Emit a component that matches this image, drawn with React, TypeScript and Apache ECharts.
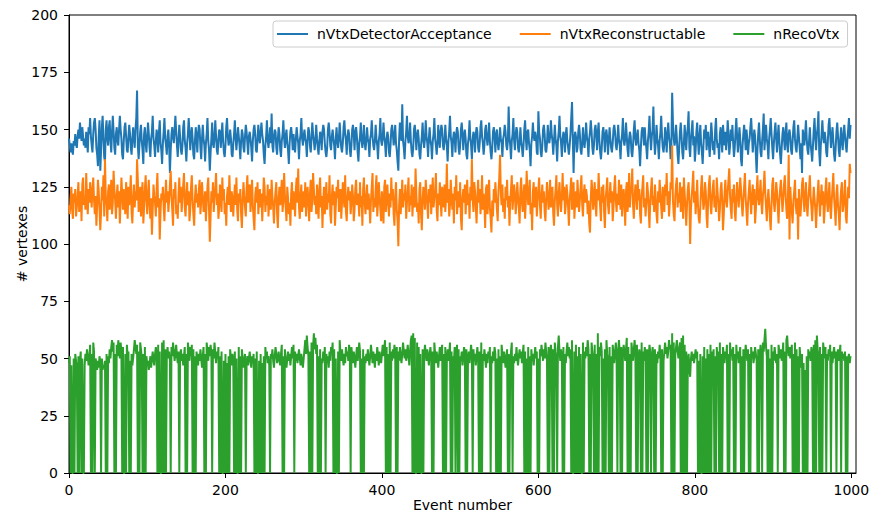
import React, { useEffect, useRef } from "react";
import * as echarts from "echarts";

// Per-event vertex counts
const nVtxDetectorAcceptance: number[] = [
  146,143,140,144,141,139,145,143,148,144,142,147,150,146,153,149,145,151,147,143,146,142,149,145,140,151,148,155,147,143,
  140,148,153,155,150,142,139,134,147,154,132,141,151,156,146,138,136,150,154,146,143,151,154,145,140,149,156,149,142,139,
  148,151,145,143,150,156,150,146,139,137,145,151,153,147,141,140,147,152,148,142,139,146,151,146,142,150,155,167,143,137,
  143,149,152,145,141,135,148,151,144,140,147,153,148,142,138,146,149,156,146,143,138,145,150,147,140,149,154,144,141,135,
  144,149,155,146,143,139,147,150,143,131,141,148,151,147,144,150,156,149,143,138,146,152,147,141,139,143,151,154,145,142,
  136,144,148,155,149,141,147,151,146,139,137,145,151,147,140,148,152,150,142,137,146,152,146,143,136,144,148,155,145,141,
  132,140,146,153,144,142,147,154,147,141,139,146,150,149,142,148,153,145,140,138,143,151,155,147,143,145,150,146,139,138,
  144,148,154,146,141,146,151,147,143,137,145,150,148,142,140,147,152,149,144,139,147,149,146,142,136,145,150,152,148,141,
  140,146,152,146,144,149,153,148,145,139,135,143,147,154,145,142,146,151,144,157,143,140,147,150,149,142,139,146,151,148,
  141,138,145,148,154,146,142,147,150,144,141,135,144,149,151,147,141,148,143,140,146,151,147,144,137,145,148,155,146,143,
  147,150,146,144,138,146,151,149,143,140,146,153,148,145,141,145,152,146,142,139,145,149,147,141,149,152,150,144,140,138,
  142,150,153,149,143,141,147,150,146,143,137,146,151,145,142,146,153,147,142,140,144,151,154,148,145,139,147,150,148,141,
  138,143,150,152,148,141,149,151,147,140,136,144,147,153,145,142,146,152,144,141,145,151,146,144,138,146,148,154,147,143,
  141,145,152,146,143,137,145,148,155,145,143,146,153,147,144,138,146,149,147,140,138,143,150,152,148,143,147,152,144,141,
  136,132,146,153,147,145,161,145,142,137,145,149,156,147,144,146,153,145,140,138,142,150,152,148,141,147,150,146,139,137,
  143,147,153,145,142,146,154,147,144,138,146,151,145,143,137,145,148,155,146,143,139,144,152,146,142,149,152,150,143,141,
  145,152,146,143,136,145,149,156,147,144,138,146,149,147,140,148,151,149,142,139,143,150,153,148,141,147,150,146,139,137,
  144,147,154,146,143,137,146,149,147,140,148,151,149,142,140,144,151,154,147,144,139,143,150,152,146,143,147,153,145,140,
  137,142,149,151,147,140,148,150,144,141,145,151,146,144,138,146,148,152,149,143,141,145,160,147,143,137,145,148,155,145,
  141,148,151,149,142,140,144,151,145,142,138,143,150,154,146,141,149,150,144,141,134,144,147,153,147,145,149,147,140,139,
  158,149,146,140,138,143,150,152,148,141,140,144,152,146,144,147,154,148,145,139,145,152,146,143,136,145,149,156,147,144,
  138,146,149,147,140,148,151,145,142,139,143,148,155,162,146,131,146,149,147,140,142,149,152,148,141,139,144,151,145,142,
  146,153,147,144,138,146,149,154,149,142,139,143,150,152,148,141,149,153,145,140,137,142,149,151,147,140,148,150,146,139,
  145,151,146,142,140,144,150,152,149,143,141,145,152,146,143,137,145,148,155,145,143,146,153,147,141,138,146,149,147,140,
  138,143,150,154,146,143,147,150,144,141,134,142,149,151,149,143,151,145,142,137,145,149,156,147,141,147,150,160,146,139,
  144,152,146,143,137,145,149,156,147,142,140,144,151,147,140,148,153,147,144,137,143,166,153,146,143,145,152,146,139,135,
  142,149,153,147,140,137,144,152,146,141,148,151,158,142,138,146,150,154,143,147,136,141,149,153,145,139,147,152,144,140,
  135,143,150,146,152,141,147,149,143,138,146,153,148,141,145,139,150,155,146,142,144,137,148,151,145,140,152,147,143,149,
  141,146,154,148,139,143,150,145,152,144,138,142,149,155,147,140,145,151,146,137,134,143,148,152,147,141,150,146,139,144,
  146,151,155,148,140,145,150,147,139,131,141,148,153,146,140,138,145,150,157,141,147,152,146,143,137,146,150,155,148,142,
  137,144,149,153,146,140,147,152,145,139,135,142,148,151,146,141,149,153,143,140,148,150,147,141,139,145,151,154,146,142,
  140,146,152,147,142,137,144,131,150,147,143,148,154,146,141,139,145,151,144,140,136,143,150,155,146,141,148,151,158,140,
  134,143,148,154,147,144,149,146,140,138,145,152,155,148,142,147,151,145,139,136,142,149,153,147,141,138,146,151,144,141,
  148,152,147,143,140,146,150,155,146,152,
];

const nVtxReconstructable: number[] = [
  117,113,120,125,115,111,122,118,124,112,116,121,127,114,119,123,110,126,129,117,121,115,131,120,113,124,118,127,122,116,
  124,129,119,113,121,108,117,128,123,115,106,114,125,119,130,112,137,121,117,110,123,126,115,120,128,113,118,132,124,119,
  111,121,126,116,123,109,119,129,122,115,124,118,113,127,120,111,125,117,122,130,114,109,120,126,116,123,119,137,128,114,
  118,125,112,121,127,109,116,124,130,119,113,122,128,117,111,120,104,115,126,121,118,112,124,131,116,120,102,114,122,119,
  125,116,110,121,128,118,123,114,119,126,132,121,115,108,124,120,127,113,117,111,122,129,118,125,114,120,126,131,116,112,
  121,127,117,123,110,115,125,130,119,113,108,120,126,118,122,116,124,128,113,119,127,121,114,117,123,110,118,125,129,115,
  101,112,123,118,127,114,120,125,131,117,122,111,116,126,121,114,129,119,124,113,118,108,121,125,117,130,120,114,123,119,
  112,120,126,117,129,115,110,122,118,124,113,107,119,127,121,116,112,124,130,118,122,126,114,120,128,117,111,106,121,125,
  118,127,113,120,124,116,122,110,119,129,125,114,121,117,126,112,119,124,115,128,121,116,109,118,123,127,113,107,120,125,
  117,122,128,114,119,131,121,116,110,125,120,113,118,108,122,127,115,123,119,112,124,129,118,133,116,111,121,126,114,119,
  123,116,127,112,120,125,118,110,122,128,114,119,131,124,117,121,113,126,118,111,124,129,116,121,107,119,125,113,120,127,
  115,122,118,130,113,109,121,126,117,123,108,116,125,120,128,114,119,124,111,118,127,121,116,130,114,110,120,125,119,123,
  113,118,126,121,110,115,124,128,117,122,119,112,127,116,121,108,124,129,118,113,120,126,115,122,117,109,119,125,131,114,
  120,116,124,130,112,118,127,121,115,110,123,117,109,125,128,114,120,126,118,112,122,116,129,119,124,113,108,121,127,115,
  110,99,117,124,113,120,128,116,122,119,126,111,118,123,129,114,121,117,126,112,120,125,116,133,122,114,118,109,124,127,
  113,106,119,125,120,115,128,122,117,111,124,118,126,113,121,129,116,120,123,131,115,110,122,117,127,119,112,125,121,116,
  126,114,120,135,118,124,112,117,128,121,115,122,109,125,119,130,113,118,123,116,127,111,106,120,124,118,126,113,121,128,
  117,122,111,125,119,137,120,114,127,123,116,109,121,128,118,124,113,119,130,115,122,117,107,124,126,113,120,128,116,111,
  105,119,112,124,118,127,121,115,110,123,129,139,122,117,126,114,120,111,125,119,128,116,121,108,118,124,130,115,120,126,
  122,113,118,127,121,116,109,124,129,118,114,122,126,111,119,132,124,117,121,128,113,118,106,123,127,116,120,125,112,119,
  124,129,117,111,121,126,118,123,114,110,120,127,122,115,119,128,116,121,125,113,108,119,124,130,117,112,122,127,118,114,
  121,131,119,125,113,117,126,122,116,108,119,124,129,115,120,127,111,118,123,116,128,121,114,119,125,130,117,112,122,126,
  118,124,121,113,119,109,105,120,128,123,115,121,127,117,112,124,119,131,122,116,110,125,118,126,114,107,120,124,129,117,
  113,121,127,118,123,110,116,125,130,119,114,122,117,128,121,115,126,112,119,124,118,108,123,127,114,120,131,116,122,125,
  133,117,111,120,126,122,115,128,119,124,113,109,121,125,130,116,120,112,118,127,123,115,107,119,124,129,117,121,114,126,
  120,113,109,123,118,128,122,116,111,125,119,114,126,121,131,117,123,112,118,127,124,143,119,113,110,121,126,129,116,122,
  118,127,114,120,125,111,129,122,116,108,117,124,127,119,100,115,121,126,132,118,123,113,120,128,117,111,109,116,125,130,
  121,115,118,127,123,112,107,119,126,130,117,113,120,125,128,116,121,114,129,123,118,110,115,124,127,119,106,113,122,128,
  119,116,123,128,133,121,115,111,124,118,126,114,110,120,127,122,116,121,129,124,117,112,119,125,131,120,114,108,118,123,
  128,119,113,121,126,117,124,109,115,123,130,120,117,122,128,118,113,121,125,132,122,116,110,119,124,118,111,106,117,126,
  129,118,114,120,127,123,116,109,119,124,128,121,114,119,126,130,122,115,111,120,139,102,125,118,114,109,119,123,128,117,
  113,120,102,124,116,112,118,126,129,120,114,121,127,117,112,119,124,130,121,116,110,118,125,120,115,107,116,122,128,119,
  112,120,126,117,123,109,115,124,129,118,114,121,127,116,111,119,125,131,120,115,108,122,126,117,113,106,118,124,127,114,
  117,121,128,112,109,119,125,120,135,131,
];

const nRecoVtx: number[] = [
  48,51,0,47,0,0,50,0,52,49,46,0,51,0,49,53,0,50,0,0,47,52,49,54,51,47,50,56,0,52,
  0,57,53,0,50,48,45,49,46,51,48,0,50,45,47,46,49,0,52,0,51,48,54,50,55,58,53,57,0,52,
  0,56,51,58,54,50,57,53,0,55,0,0,52,0,56,51,53,0,49,0,52,47,50,54,58,55,52,56,0,53,
  0,57,54,50,0,52,0,55,0,51,47,49,45,48,51,46,50,53,49,47,52,55,51,0,56,0,53,0,0,57,
  0,58,0,54,0,51,55,50,53,49,0,55,51,57,53,49,52,56,51,48,53,0,50,54,49,52,47,51,55,0,
  52,0,57,53,49,55,51,56,0,54,0,51,0,53,50,47,52,49,54,50,46,51,55,0,52,0,57,53,49,55,
  51,56,52,0,54,50,57,52,48,53,50,55,0,51,0,53,0,0,49,0,52,0,48,0,51,0,54,50,47,52,
  49,0,53,0,50,0,0,55,0,51,0,54,50,46,49,52,0,48,51,47,50,53,49,46,51,48,52,0,50,0,
  53,0,0,49,0,52,0,48,0,51,0,55,50,53,48,51,47,0,52,50,54,49,46,51,55,52,48,50,53,49,
  47,52,56,0,51,0,54,49,46,50,53,49,52,47,51,55,50,56,0,53,49,52,48,51,54,50,47,52,49,46,
  50,54,58,52,60,55,51,0,53,0,57,0,55,61,54,59,52,56,0,51,0,54,0,50,48,53,49,55,0,52,
  48,51,46,53,49,55,52,57,0,54,0,50,0,0,53,0,58,52,49,54,50,47,52,48,55,51,53,49,56,52,
  0,55,51,48,53,50,46,51,55,49,52,57,53,0,50,0,54,0,51,48,52,49,54,50,47,51,56,52,48,53,
  50,46,52,49,55,51,47,53,50,48,52,56,51,54,58,0,55,0,52,0,57,0,53,49,54,50,56,52,0,55,
  0,53,49,55,51,48,52,57,53,50,54,49,52,56,51,47,53,58,60,0,61,0,59,0,0,57,0,55,0,52,
  0,0,54,0,50,56,52,49,54,51,47,52,55,50,0,53,0,57,52,48,53,50,46,51,55,49,53,56,0,52,
  0,55,0,50,54,49,52,57,0,53,0,51,48,55,0,52,56,0,54,0,51,49,53,47,51,55,52,0,54,0,
  50,53,48,52,56,51,0,54,49,52,47,51,55,50,0,53,0,57,0,52,49,54,50,46,52,48,53,50,55,0,
  51,48,53,49,55,52,0,50,0,54,0,51,0,56,52,48,53,50,46,51,54,0,52,0,49,53,57,0,51,48,
  52,49,55,50,47,51,54,50,53,48,52,56,0,53,0,50,0,55,0,51,0,54,49,52,47,51,55,50,53,0,
  50,0,54,51,56,52,49,54,50,57,53,49,0,55,0,51,56,52,0,54,0,57,53,50,0,55,60,53,49,54,
  51,0,55,0,52,48,53,57,51,55,50,54,0,58,0,0,53,0,56,0,51,0,55,0,52,0,0,57,0,53,
  50,55,51,58,54,0,52,0,57,53,50,0,56,0,52,0,61,0,55,51,57,53,0,50,0,54,0,58,52,49,
  0,55,0,51,0,56,52,48,53,57,50,0,54,58,52,0,55,0,51,56,53,49,54,59,0,55,0,52,0,57,
  53,49,54,58,52,0,56,0,50,54,51,0,57,0,53,49,55,51,0,54,0,50,56,53,0,49,55,51,0,54,
  0,52,48,53,50,56,51,0,54,0,49,53,57,52,55,50,53,58,54,56,0,61,0,57,0,52,55,58,53,50,
  54,57,0,59,0,60,0,56,0,53,0,49,52,45,42,50,53,49,52,48,51,54,50,53,0,49,0,52,0,0,
  51,0,55,0,50,0,54,0,52,0,56,0,53,49,54,0,51,0,55,50,53,0,57,0,52,0,55,51,48,53,
  50,56,0,52,0,57,51,54,49,55,0,52,0,56,50,53,48,52,55,0,51,0,54,0,50,56,52,49,54,0,
  52,0,55,50,53,48,51,55,52,49,0,54,0,51,56,52,0,57,53,58,63,55,51,0,54,0,50,0,56,0,
  53,49,55,51,48,52,0,56,53,50,54,49,52,57,0,53,0,58,60,54,51,55,50,53,56,0,52,0,57,0,
  54,0,51,0,55,50,46,52,0,48,0,45,0,51,0,54,50,53,49,55,52,0,56,0,58,0,60,54,51,0,
  55,0,52,0,57,53,50,55,0,52,49,54,51,56,0,53,48,52,55,50,53,0,51,54,49,52,56,0,53,50,
  52,49,53,0,51,0,50,52,48,51,
];

const seriesNames = ["nVtxDetectorAcceptance", "nVtxReconstructable", "nRecoVtx"];
const seriesColors = ["#1f77b4", "#ff7f0e", "#2ca02c"];
const xTicks = [0, 200, 400, 600, 800, 1000];
const xMax = 1006;
const yMax = 200;
const yStep = 25;

const FONT = "DejaVu Sans";
const FONT_SIZE = 14;

export default function App() {
  const ref = useRef<HTMLDivElement>(null);

  useEffect(() => {
    if (!ref.current) return;
    const chart = echarts.init(ref.current, undefined, { renderer: "svg" });
    const allSeries = [nVtxDetectorAcceptance, nVtxReconstructable, nRecoVtx];

    chart.setOption({
      animation: false,
      backgroundColor: "#ffffff",
      textStyle: { fontFamily: FONT },
      grid: {
        left: 69,
        right: 13,
        top: 15,
        bottom: 42,
        containLabel: false,
        outerBoundsMode: "none",
        show: true,
        borderColor: "#000000",
        borderWidth: 1,
        backgroundColor: "transparent",
      },
      legend: {
        left: 273,
        top: 21,
        orient: "horizontal",
        icon: "rect",
        itemWidth: 31,
        itemHeight: 2,
        itemGap: 28,
        padding: [6, 8, 6, 4],
        borderColor: "#cccccc",
        borderWidth: 1,
        borderRadius: 3,
        backgroundColor: "rgba(255,255,255,0.8)",
        textStyle: {
          fontFamily: FONT,
          fontSize: FONT_SIZE,
          color: "#000000",
          padding: [0, 0, 0, 4],
        },
        data: seriesNames,
      },
      xAxis: {
        type: "value",
        min: 0,
        max: xMax,
        name: "Event number",
        nameLocation: "middle",
        nameGap: 25,
        nameMoveOverlap: false,
        nameTextStyle: {
          fontFamily: FONT,
          fontSize: FONT_SIZE,
          lineHeight: 14,
          color: "#000000",
        },
        axisLine: { show: true, lineStyle: { color: "#000000", width: 1 } },
        axisTick: {
          show: true,
          length: 5,
          customValues: xTicks,
          lineStyle: { color: "#000000", width: 1 },
        },
        axisLabel: {
          customValues: xTicks,
          margin: 10,
          fontFamily: FONT,
          fontSize: FONT_SIZE,
          color: "#000000",
          formatter: (v: number) => String(v),
        },
        splitLine: { show: false },
      },
      yAxis: {
        type: "value",
        min: 0,
        max: yMax,
        interval: yStep,
        name: "# vertexes",
        nameLocation: "middle",
        nameGap: 40,
        nameMoveOverlap: false,
        nameRotate: 90,
        nameTextStyle: { fontFamily: FONT, fontSize: FONT_SIZE, color: "#000000" },
        axisLine: { show: true, lineStyle: { color: "#000000", width: 1 } },
        axisTick: { show: true, length: 5, lineStyle: { color: "#000000", width: 1 } },
        axisLabel: {
          margin: 11,
          fontFamily: FONT,
          fontSize: FONT_SIZE,
          color: "#000000",
          formatter: (v: number) => String(v),
        },
        splitLine: { show: false },
      },
      series: allSeries.map((values, k) => ({
        name: seriesNames[k],
        type: "line",
        data: values.map((v, i) => [i, v]),
        showSymbol: false,
        symbol: "none",
        lineStyle: { color: seriesColors[k], width: 2 },
        itemStyle: { color: seriesColors[k] },
        emphasis: { disabled: true },
      })),
    });

    return () => chart.dispose();
  }, []);

  return (
    <div
      ref={ref}
      style={{ position: "fixed", left: 0, top: 0, width: 869, height: 515 }}
    />
  );
}
